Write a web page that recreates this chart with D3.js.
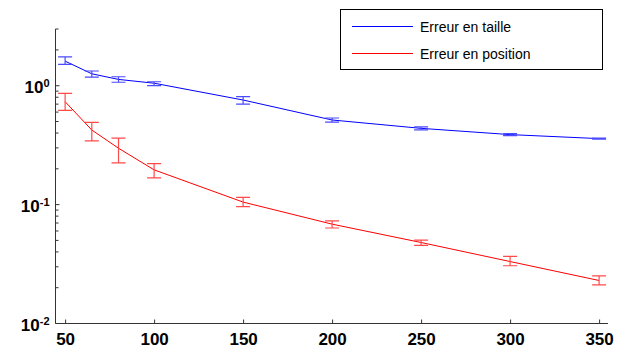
<!DOCTYPE html>
<html>
<head>
<meta charset="utf-8">
<script src="https://cdn.jsdelivr.net/npm/d3@7"></script>
<style>
  body { margin: 0; background: #fff; }
  svg { display: block; font-family: "Liberation Sans", Arial, sans-serif; }
</style>
</head>
<body>
<svg id="chart" width="627" height="347"></svg>
<script>
// data
const tailles = [50, 65, 80, 100, 150, 200, 250, 300, 350]
const erreurTaille = [1.61, 1.26, 1.13, 1.05, 0.758, 0.515, 0.438, 0.388, 0.359]
const tailleBas = [1.51, 1.18, 1.07, 1.0, 0.70, 0.495, 0.425, 0.381, 0.355]
const tailleHaut = [1.75, 1.33, 1.19, 1.08, 0.81, 0.535, 0.45, 0.395, 0.363]
const erreurPosition = [0.734, 0.424, 0.298, 0.196, 0.105, 0.0685, 0.048, 0.0332, 0.023]
const positionBas = [0.621, 0.343, 0.224, 0.168, 0.096, 0.0636, 0.0454, 0.0306, 0.0211]
const positionHaut = [0.863, 0.492, 0.363, 0.221, 0.115, 0.073, 0.0502, 0.0367, 0.0252]
const xTicks = [50, 100, 150, 200, 250, 300, 350]
const yTicks = [1, 0.1, 0.01]
const yTickLabels = ["0", "-1", "-2"]
const legende = ["Erreur en taille", "Erreur en position"]

const svg = d3.select("#chart")
const x = d3.scaleLinear().domain([44.6, 355]).range([55.5, 608])
const y = d3.scaleLog().domain([0.01, 3]).range([323.5, 29])
const axisColor = "#333"

const series = [
  { nom: legende[0], vals: erreurTaille, bas: tailleBas, haut: tailleHaut, color: "#0000ff", barColor: "#4a4aff" },
  { nom: legende[1], vals: erreurPosition, bas: positionBas, haut: positionHaut, color: "#ff0000", barColor: "#ff4a4a" }
]

// axes (MATLAB style, ticks pointing inward, no box)
const gx = svg.append("g").attr("transform", "translate(0," + y(0.01) + ")")
  .call(d3.axisBottom(x).tickValues(xTicks).tickSize(-4).tickPadding(10).tickSizeOuter(0))
gx.select(".domain").attr("stroke", axisColor).attr("d", "M" + x.range()[0] + ",0H" + x.range()[1])
gx.selectAll(".tick line").attr("stroke", axisColor)
gx.selectAll("text").attr("fill", "#000").attr("font-size", 17).attr("font-weight", "bold")
  .attr("dy", "0.66em")

const minor = []
for (let p = -2; p < 1; p++) for (let k = 2; k <= 9; k++) {
  const v = k * Math.pow(10, p)
  if (v <= 3) minor.push(v)
}
const gy = svg.append("g").attr("transform", "translate(" + x.range()[0] + ",0)")
gy.append("path").attr("stroke", axisColor).attr("fill", "none")
  .attr("d", "M0," + y.range()[0] + "V" + y.range()[1])
gy.selectAll(".minor").data(minor).join("line")
  .attr("x1", 0).attr("x2", 3).attr("y1", d => y(d)).attr("y2", d => y(d))
  .attr("stroke", axisColor)
gy.selectAll(".major").data(yTicks).join("line")
  .attr("x1", 0).attr("x2", 4).attr("y1", d => y(d)).attr("y2", d => y(d))
  .attr("stroke", axisColor)
const lab = gy.selectAll(".lab").data(yTicks).join("text")
  .attr("x", -6).attr("y", d => y(d) + 7)
  .attr("text-anchor", "end").attr("font-weight", "bold").attr("fill", "#000")
lab.append("tspan").attr("font-size", 17).text("10")
lab.append("tspan").attr("font-size", 11).attr("dy", -6).text((d, i) => yTickLabels[i])

// series
const line = d3.line().x(d => x(d[0])).y(d => y(d[1]))
series.forEach(s => {
  const pts = tailles.map((t, i) => [t, s.vals[i]])
  svg.append("path").datum(pts).attr("d", line)
    .attr("fill", "none").attr("stroke", s.color).attr("stroke-width", 1)
  const bars = svg.append("g").attr("stroke", s.barColor).attr("stroke-width", 1.2).attr("fill", "none")
  tailles.forEach((t, i) => {
    const cx = x(t)
    bars.append("path")
      .attr("d", "M" + (cx - 7) + "," + y(s.haut[i]) + "H" + (cx + 7) +
        "M" + cx + "," + y(s.haut[i]) + "V" + y(s.bas[i]) +
        "M" + (cx - 7) + "," + y(s.bas[i]) + "H" + (cx + 7))
  })
})

// legend
const lg = svg.append("g")
lg.append("rect").attr("x", 340.5).attr("y", 9.5).attr("width", 262).attr("height", 60)
  .attr("fill", "#fff").attr("stroke", "#000").attr("stroke-width", 1)
series.forEach((s, i) => {
  const ly = 26.5 + i * 27
  lg.append("line").attr("x1", 352).attr("x2", 413).attr("y1", ly).attr("y2", ly)
    .attr("stroke", s.color).attr("stroke-width", 1.2)
  lg.append("text").attr("x", 420).attr("y", ly + 5).attr("font-size", 14)
    .attr("fill", "#000").text(s.nom)
})
</script>
</body>
</html>
